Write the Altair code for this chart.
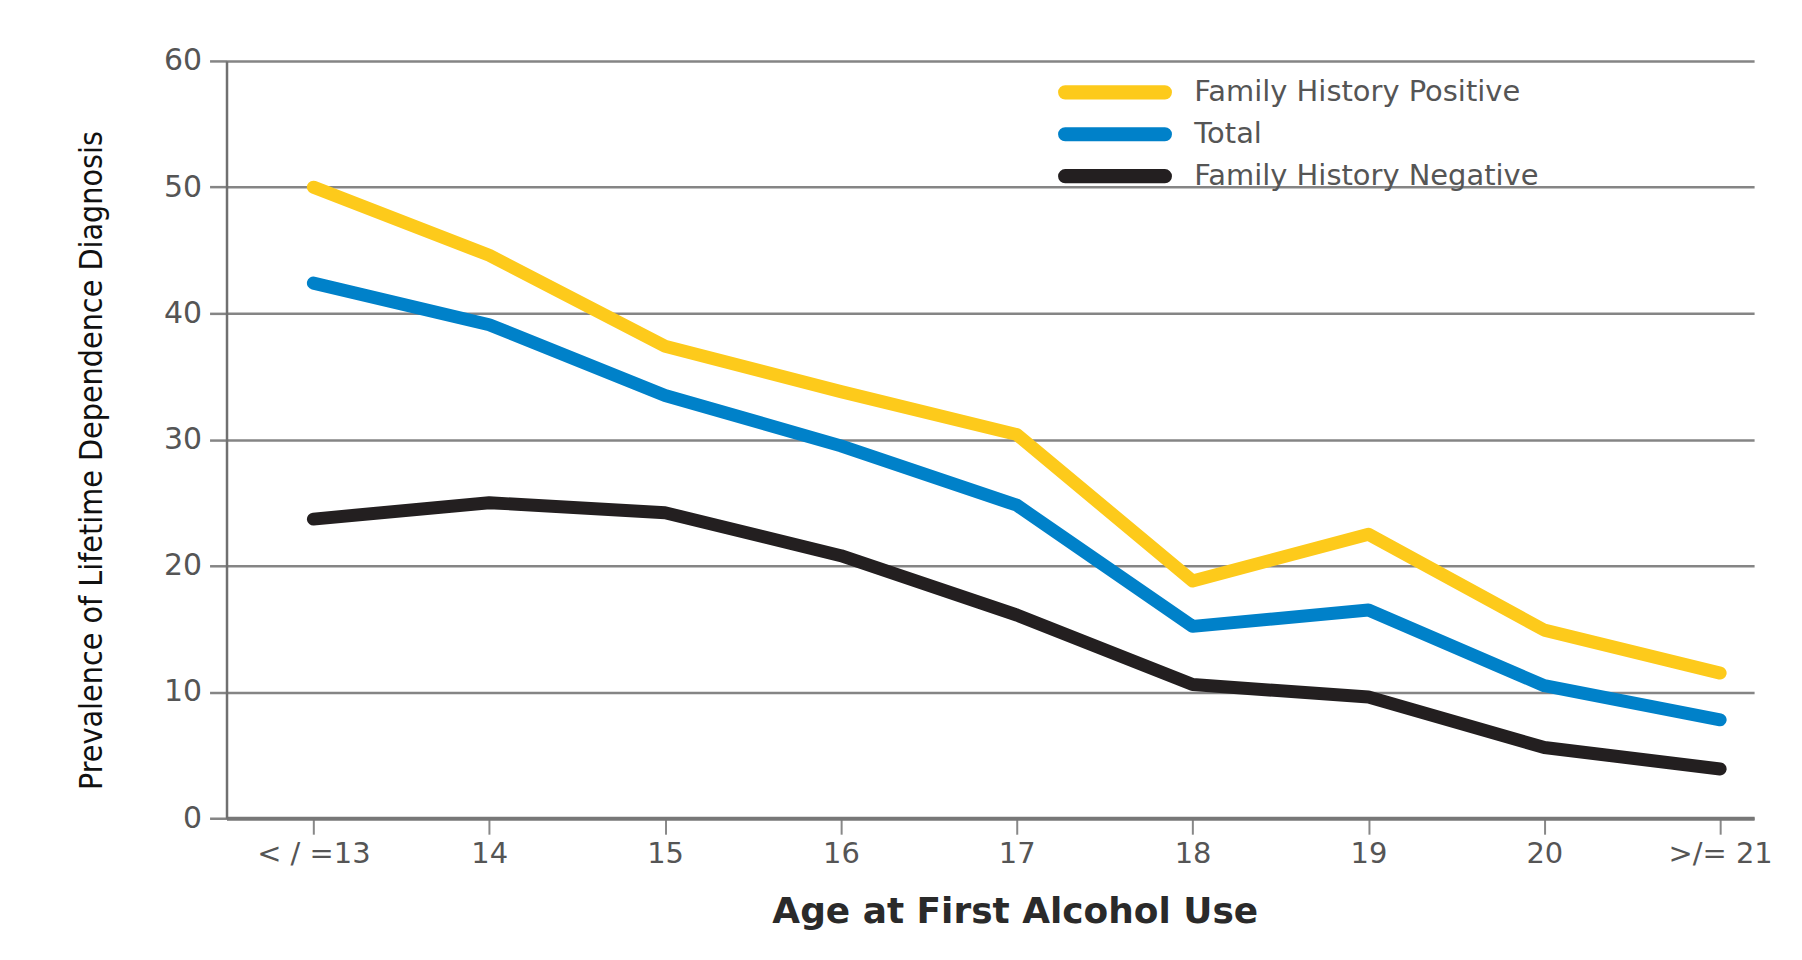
import json
import altair as alt
import pandas as pd

# ---- data ----
ages = ["< / =13", "14", "15", "16", "17", "18", "19", "20", ">/= 21"]
series_names = ["Family History Positive", "Total", "Family History Negative"]
fh_positive = [50.0, 44.6, 37.4, 33.8, 30.4, 18.8, 22.5, 14.9, 11.5]
total = [42.4, 39.1, 33.5, 29.5, 24.8, 15.2, 16.5, 10.5, 7.8]
fh_negative = [23.7, 25.0, 24.2, 20.8, 16.1, 10.6, 9.6, 5.6, 3.9]
series_colors = ["#FDCA1B", "#0081C9", "#231F20"]
y_ticks = [0, 10, 20, 30, 40, 50, 60]

rows = []
for name, vals in zip(series_names, [fh_positive, total, fh_negative]):
    for i, (a, v) in enumerate(zip(ages, vals)):
        rows.append({"idx": i, "age": a, "series": name, "value": v})
df = pd.DataFrame(rows)

label_expr = json.dumps(ages) + "[datum.value]"

# thin pill outline: with a wide stroke it looks like a round-capped line
pill = "M-8,-0.1L8,-0.1A0.1,0.1,0,0,1,8,0.1L-8,0.1A0.1,0.1,0,0,1,-8,-0.1Z"

chart = (
    alt.Chart(df)
    .mark_line(strokeWidth=13, strokeCap="round", strokeJoin="round")
    .encode(
        x=alt.X(
            "idx:Q",
            scale=alt.Scale(domain=[-0.494, 8.193], nice=False, zero=False),
            axis=alt.Axis(
                values=list(range(len(ages))),
                labelExpr=label_expr,
                grid=False,
                domain=True,
                domainColor="#777777",
                domainWidth=4,
                ticks=True,
                tickSize=16,
                tickColor="#888888",
                tickWidth=2,
                labelFont="DejaVu Sans",
                labelFontSize=29,
                labelColor="#555555",
                labelPadding=5,
                title="Age at First Alcohol Use",
                titleFont="DejaVu Sans",
                titleFontSize=36,
                titleFontWeight="bold",
                titleColor="#2a2a2a",
                titleX=790,
                titleY=94,
                titleBaseline="middle",
                titleAlign="center",
            ),
        ),
        y=alt.Y(
            "value:Q",
            scale=alt.Scale(domain=[0, 60], nice=False),
            axis=alt.Axis(
                values=y_ticks,
                grid=True,
                gridColor="#858585",
                gridWidth=2.5,
                domain=True,
                domainColor="#707070",
                domainWidth=2.5,
                ticks=True,
                tickSize=17,
                tickColor="#858585",
                tickWidth=2.5,
                labelFont="DejaVu Sans",
                labelFontSize=30,
                labelColor="#555555",
                labelPadding=8,
                title="Prevalence of Lifetime Dependence Diagnosis",
                titleFont="Liberation Sans Narrow, DejaVu Sans Condensed, Liberation Sans",
                titleFontSize=32,
                titleFontWeight="normal",
                titleColor="#111111",
                titleAngle=270,
                titleX=-135,
                titleY=400,
                titleAlign="center",
                titleBaseline="middle",
            ),
        ),
        color=alt.Color(
            "series:N",
            scale=alt.Scale(domain=series_names, range=series_colors),
            sort=series_names,
            legend=alt.Legend(
                title=None,
                orient="none",
                legendX=876,
                legendY=17,
                padding=0,
                symbolType=pill,
                symbolStrokeWidth=13,
                symbolSize=156,
                rowPadding=-28,
                labelOffset=65,
                labelLimit=0,
                labelFont="DejaVu Sans",
                labelFontSize=29,
                labelColor="#555555",
            ),
        ),
        order=alt.Order("idx:Q"),
    )
    .properties(
        width=1531,
        height=759,
        autosize=alt.AutoSizeParams(type="none"),
        padding={"left": 219, "top": 52, "right": 40, "bottom": 120},
        background="white",
    )
    .configure_view(strokeWidth=0)
)

chart.save("out.html", embed_options={"renderer": "svg", "actions": False})
